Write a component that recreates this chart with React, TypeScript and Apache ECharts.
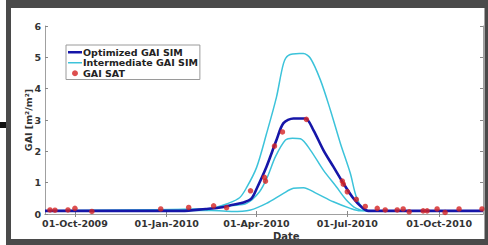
import React, { useEffect, useRef } from "react";
import * as echarts from "echarts";

// ---- Data ----
const optDates = ["2009-09-01", "2010-01-16", "2010-02-09", "2010-02-22", "2010-03-07", "2010-03-19", "2010-03-27", "2010-04-01", "2010-04-11", "2010-04-21", "2010-04-28", "2010-05-08", "2010-05-20", "2010-05-28", "2010-06-07", "2010-06-17", "2010-06-27", "2010-07-07", "2010-07-15", "2010-07-22", "2010-11-14"];
const optValues = [0.1, 0.1, 0.16, 0.2, 0.29, 0.37, 0.5, 0.8, 1.51, 2.36, 2.9, 3.05, 3.05, 2.68, 2.04, 1.51, 0.98, 0.5, 0.23, 0.1, 0.1];

const highDates = ["2009-09-01", "2010-02-10", "2010-02-20", "2010-03-02", "2010-03-15", "2010-03-22", "2010-04-01", "2010-04-11", "2010-04-21", "2010-04-28", "2010-05-03", "2010-05-14", "2010-05-18", "2010-05-25", "2010-06-04", "2010-06-14", "2010-06-24", "2010-07-04", "2010-07-10", "2010-07-17", "2010-07-22", "2010-11-14"];
const highValues = [0.1, 0.16, 0.22, 0.32, 0.52, 0.84, 1.48, 2.56, 3.73, 4.8, 5.06, 5.12, 5.12, 4.97, 4.28, 3.32, 2.26, 1.3, 0.55, 0.15, 0.1, 0.1];

const midDates = ["2009-09-01", "2010-02-10", "2010-03-07", "2010-03-22", "2010-04-04", "2010-04-12", "2010-04-20", "2010-04-30", "2010-05-07", "2010-05-15", "2010-05-25", "2010-06-07", "2010-06-20", "2010-06-30", "2010-07-10", "2010-07-20", "2010-11-14"];
const midValues = [0.1, 0.16, 0.27, 0.34, 0.71, 1.19, 1.83, 2.36, 2.42, 2.4, 2.04, 1.4, 0.87, 0.45, 0.18, 0.1, 0.1];

const lowDates = ["2009-09-01", "2010-02-10", "2010-03-07", "2010-03-26", "2010-04-11", "2010-04-28", "2010-05-08", "2010-05-18", "2010-05-31", "2010-06-17", "2010-07-04", "2010-07-14", "2010-11-14"];
const lowValues = [0.1, 0.12, 0.08, 0.13, 0.34, 0.66, 0.82, 0.84, 0.66, 0.39, 0.18, 0.1, 0.1];

const satDates = ["2009-09-06", "2009-09-11", "2009-09-24", "2009-10-01", "2009-10-18", "2009-12-26", "2010-01-23", "2010-02-17", "2010-03-02", "2010-03-26", "2010-04-09", "2010-04-10", "2010-04-19", "2010-04-27", "2010-05-21", "2010-06-26", "2010-06-27", "2010-07-01", "2010-07-10", "2010-07-19", "2010-07-31", "2010-08-08", "2010-08-20", "2010-08-26", "2010-09-01", "2010-09-15", "2010-09-19", "2010-09-29", "2010-10-07", "2010-10-21", "2010-11-13"];
const satValues = [0.13, 0.12, 0.13, 0.18, 0.08, 0.16, 0.21, 0.26, 0.2, 0.74, 1.17, 1.05, 2.17, 2.62, 3.02, 1.05, 0.95, 0.71, 0.47, 0.24, 0.18, 0.13, 0.13, 0.16, 0.07, 0.1, 0.1, 0.16, 0.05, 0.16, 0.16];

const tickDates = ["2009-10-01", "2010-01-01", "2010-04-01", "2010-07-01", "2010-10-01"];
const tickLabels = ["01-Oct-2009", "01-Jan-2010", "01-Apr-2010", "01-Jul-2010", "01-Oct-2010"];

const xMin = "2009-09-01";
const xMax = "2010-11-14";

const ts = (d: string) => new Date(d + "T00:00:00Z").getTime();
const zip = (ds: string[], vs: number[]) => ds.map((d, i) => [ts(d), vs[i]]);

const lineIcon = "path://M0,0 L28,0 L28,5 L0,5 Z";
const thinLineIcon = "path://M0,0 L28,0 L28,3 L0,3 Z";

export default function App() {
  const ref = useRef<HTMLDivElement>(null);
  useEffect(() => {
    if (!ref.current) return;
    const chart = echarts.init(ref.current, null, { renderer: "svg" });
    const tickTs = tickDates.map(ts);
    const labelFont = { fontFamily: "DejaVu Sans", fontWeight: "bold" as const, fontSize: 9.5, color: "#333" };
    const cyan = "#3cc3da";
    const blue = "#1616a8";
    const red = "#d42323";
    const axisGray = "#a0a0a0";
    const lineCommon = { type: "line", showSymbol: false, symbol: "none", smooth: 0.3 };
    chart.setOption({
      animation: false,
      backgroundColor: "#ffffff",
      grid: { left: 45, right: 5, top: 26, bottom: 31, show: false },
      legend: {
        orient: "vertical",
        left: 66,
        top: 45,
        backgroundColor: "#fff",
        borderColor: "#9a9a9a",
        borderWidth: 1,
        borderRadius: 0,
        padding: [2, 2, 1, 2],
        itemWidth: 14,
        itemHeight: 6,
        itemGap: 0,
        symbolKeepAspect: true,
        textStyle: { fontFamily: "DejaVu Sans", fontWeight: "bold", fontSize: 9.5, color: "#222", lineHeight: 10.5, padding: [0, 0, 0, -4] },
        data: [
          { name: "Optimized GAI SIM", icon: lineIcon },
          { name: "Intermediate GAI SIM", icon: thinLineIcon },
          { name: "GAI SAT", icon: "circle" },
        ],
      },
      xAxis: [
        {
          type: "value",
          min: ts(xMin),
          max: ts(xMax),
          position: "bottom",
          axisLine: { show: true, lineStyle: { color: axisGray, width: 1 } },
          axisTick: { show: true, inside: true, length: 3, customValues: tickTs, lineStyle: { color: "#888" } },
          axisLabel: {
            ...labelFont,
            margin: 4,
            customValues: tickTs,
            formatter: (v: number) => {
              const i = tickTs.indexOf(v);
              return i >= 0 ? tickLabels[i] : "";
            },
          },
          splitLine: { show: false },
        },
        {
          type: "value",
          min: ts(xMin),
          max: ts(xMax),
          position: "top",
          axisLine: { show: true, lineStyle: { color: axisGray, width: 1 } },
          axisTick: { show: true, inside: true, length: 3, customValues: tickTs, lineStyle: { color: "#888" } },
          axisLabel: { show: false },
          splitLine: { show: false },
        },
      ],
      yAxis: [
        {
          type: "value",
          min: 0,
          max: 6,
          interval: 1,
          name: "GAI [m\u00b2/m\u00b2]",
          nameLocation: "middle",
          nameGap: 12,
          nameMoveOverlap: false,
          nameTextStyle: { fontFamily: "DejaVu Sans", fontWeight: "bold", fontSize: 9.5, color: "#333" },
          axisLine: { show: true, lineStyle: { color: axisGray, width: 1 } },
          axisTick: { show: true, inside: true, length: 3, lineStyle: { color: "#888" } },
          axisLabel: { ...labelFont, margin: 4 },
          splitLine: { show: false },
        },
        {
          type: "value",
          min: 0,
          max: 6,
          interval: 1,
          position: "right",
          axisLine: { show: true, lineStyle: { color: axisGray, width: 1 } },
          axisTick: { show: true, inside: true, length: 3, lineStyle: { color: "#888" } },
          axisLabel: { show: false },
          splitLine: { show: false },
        },
      ],
      series: [
        { ...lineCommon, name: "Intermediate GAI SIM", data: zip(highDates, highValues), lineStyle: { color: cyan, width: 1.5 }, itemStyle: { color: cyan }, z: 2 },
        { ...lineCommon, name: "Intermediate GAI SIM", data: zip(midDates, midValues), lineStyle: { color: cyan, width: 1.5 }, itemStyle: { color: cyan }, z: 2 },
        { ...lineCommon, name: "Intermediate GAI SIM", data: zip(lowDates, lowValues), lineStyle: { color: cyan, width: 1.5 }, itemStyle: { color: cyan }, z: 2 },
        { ...lineCommon, name: "Optimized GAI SIM", data: zip(optDates, optValues), lineStyle: { color: blue, width: 2.6 }, itemStyle: { color: blue }, z: 3 },
        { name: "GAI SAT", type: "scatter", data: zip(satDates, satValues), symbol: "circle", symbolSize: 5.5, itemStyle: { color: red }, z: 4 },
      ],
      graphic: [
        { type: "text", left: 273, top: 231, z: 10, style: { text: "Date", font: "bold 10px 'DejaVu Sans'", fill: "#333" } },
        { type: "rect", z: 20, shape: { x: 6, y: 0, width: 482, height: 8 }, style: { fill: "#4a4a4a" } },
        { type: "rect", z: 20, shape: { x: 6, y: 0, width: 5, height: 245 }, style: { fill: "#4a4a4a" } },
        { type: "rect", z: 20, shape: { x: 484.5, y: 0, width: 4, height: 245 }, style: { fill: "#4a4a4a" } },
        { type: "rect", z: 20, shape: { x: 6, y: 239, width: 482, height: 6 }, style: { fill: "#4a4a4a" } },
        { type: "rect", z: 20, shape: { x: 0, y: 122, width: 6, height: 6 }, style: { fill: "#111" } },
      ],
    });
    return () => chart.dispose();
  }, []);
  return <div ref={ref} style={{ position: "fixed", left: 0, top: 0, width: 488, height: 245 }} />;
}
